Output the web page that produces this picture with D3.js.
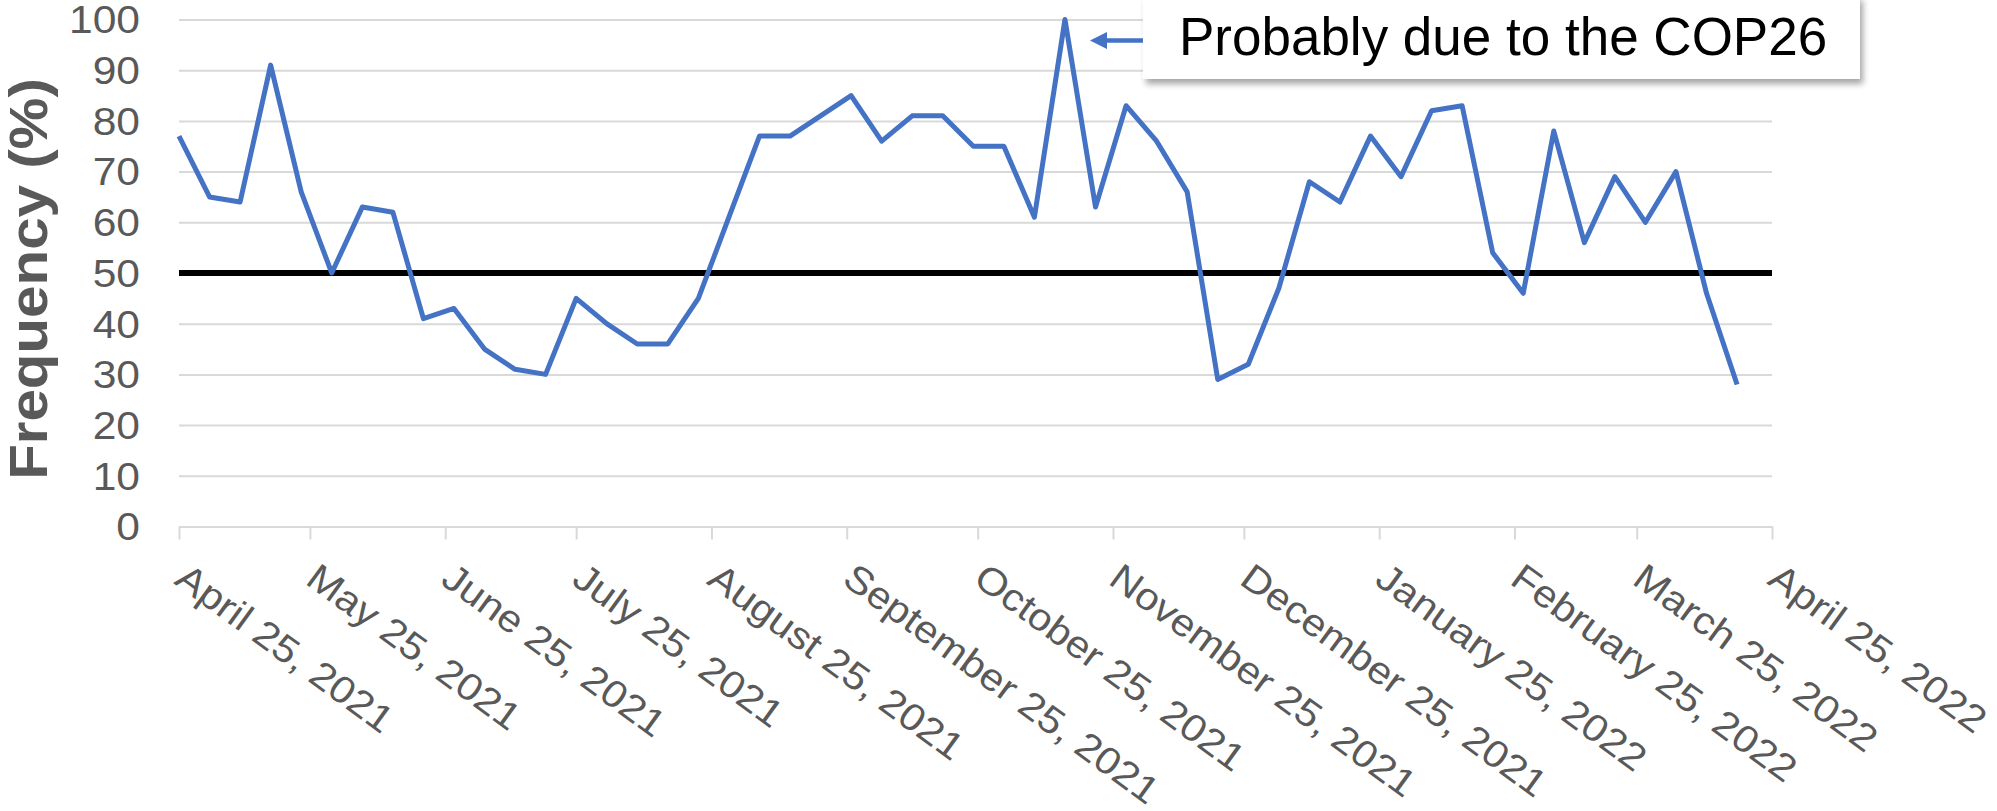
<!DOCTYPE html>
<html>
<head>
<meta charset="utf-8">
<script src="https://cdn.jsdelivr.net/npm/d3@7"></script>
<style>
body { margin: 0; background: #fff; }
text { font-family: "Liberation Sans", Arial, sans-serif; }
</style>
</head>
<body>
<div class="chart"></div>
<script>

// weekly observations
const weeks = [
    "2021-04-25", "2021-05-02", "2021-05-09", "2021-05-16", "2021-05-23", "2021-05-30",
    "2021-06-06", "2021-06-13", "2021-06-20", "2021-06-27", "2021-07-04", "2021-07-11",
    "2021-07-18", "2021-07-25", "2021-08-01", "2021-08-08", "2021-08-15", "2021-08-22",
    "2021-08-29", "2021-09-05", "2021-09-12", "2021-09-19", "2021-09-26", "2021-10-03",
    "2021-10-10", "2021-10-17", "2021-10-24", "2021-10-31", "2021-11-07", "2021-11-14",
    "2021-11-21", "2021-11-28", "2021-12-05", "2021-12-12", "2021-12-19", "2021-12-26",
    "2022-01-02", "2022-01-09", "2022-01-16", "2022-01-23", "2022-01-30", "2022-02-06",
    "2022-02-13", "2022-02-20", "2022-02-27", "2022-03-06", "2022-03-13", "2022-03-20",
    "2022-03-27", "2022-04-03", "2022-04-10", "2022-04-17"
]
const frequency = [
    77, 65, 64, 91, 66, 50, 63, 62, 41, 43, 35, 31, 30, 45, 40, 36, 36, 45, 61, 77,
    77, 81, 85, 76, 81, 81, 75, 75, 61, 100, 63, 83, 76, 66, 29, 32, 47, 68, 64, 77,
    69, 82, 83, 54, 46, 78, 56, 69, 60, 70, 46, 28
]
const monthTicks = [
    "April 25, 2021", "May 25, 2021", "June 25, 2021", "July 25, 2021",
    "August 25, 2021", "September 25, 2021", "October 25, 2021", "November 25, 2021",
    "December 25, 2021", "January 25, 2022", "February 25, 2022", "March 25, 2022",
    "April 25, 2022"
]
const yTicks = [0, 10, 20, 30, 40, 50, 60, 70, 80, 90, 100]
const threshold = 50
const noteText = "Probably due to the COP26"
const noteWeek = "2021-11-14"

let outerWidth = 1997
let outerHeight = 811
let margin = {top: 19.5, bottom: 284.5, left: 179, right: 225}
let w = outerWidth - margin.left - margin.right
let h = outerHeight - margin.top - margin.bottom

const parseDay = d3.timeParse("%Y-%m-%d")
const parseTick = d3.timeParse("%B %d, %Y")

const data = weeks.map((d, i) => ({date: parseDay(d), value: frequency[i]}))
const tickDates = monthTicks.map(parseTick)

const root = d3.select(".chart")
    .append("svg")
    .attr("width", outerWidth)
    .attr("height", outerHeight)

const defs = root.append("defs")
defs.append("filter")
    .attr("id", "shadow")
    .attr("x", "-5%").attr("y", "-30%")
    .attr("width", "112%").attr("height", "170%")
    .append("feDropShadow")
    .attr("dx", 3)
    .attr("dy", 5)
    .attr("stdDeviation", 3)
    .attr("flood-color", "#000")
    .attr("flood-opacity", 0.35)

const svg = root.append("g")
    .attr("transform", `translate(${margin.left}, ${margin.top})`)

const xScale = d3.scaleTime()
    .domain([tickDates[0], tickDates[tickDates.length - 1]])
    .range([0, w])

const yScale = d3.scaleLinear()
    .domain([0, 100])
    .range([h, 0])

// gridlines
svg.append("g")
    .attr("class", "grid")
    .call(d3.axisLeft(yScale).tickValues(yTicks).tickSize(-w).tickFormat(""))
    .call(g => g.select(".domain").remove())
    .call(g => g.selectAll("line").attr("stroke", "#d9d9d9").attr("stroke-width", 2))

// y labels
svg.append("g")
    .attr("class", "axis y-axis")
    .call(d3.axisLeft(yScale).tickValues(yTicks).tickSize(0))
    .call(g => g.select(".domain").remove())
    .call(g => g.selectAll("text")
        .attr("x", 0)
        .attr("dy", "0.35em")
        .attr("transform", "translate(-39, 0) scale(1.12, 1)")
        .attr("fill", "#595959")
        .attr("font-size", 38))

// x axis
const xAxis = svg.append("g")
    .attr("class", "axis x-axis")
    .attr("transform", `translate(0, ${h})`)
    .call(d3.axisBottom(xScale).tickValues(tickDates).tickSize(13).tickSizeOuter(0).tickFormat(""))
    .call(g => g.select(".domain").attr("stroke", "#d9d9d9").attr("stroke-width", 2))
    .call(g => g.selectAll(".tick line").attr("stroke", "#d9d9d9").attr("stroke-width", 2))

xAxis.selectAll(".xlabel")
    .data(tickDates)
    .enter()
    .append("text")
    .attr("class", "xlabel")
    .attr("text-anchor", "start")
    .attr("transform", d => `translate(${xScale(d) - 6}, 56.5) rotate(36) scale(1.1, 1)`)
    .attr("fill", "#595959")
    .attr("font-size", 38)
    .text((d, i) => monthTicks[i])

// 50% reference
svg.append("line")
    .attr("x1", 0)
    .attr("x2", w)
    .attr("y1", yScale(threshold))
    .attr("y2", yScale(threshold))
    .attr("stroke", "#000")
    .attr("stroke-width", 6)

const line = d3.line()
    .x(d => xScale(d.date))
    .y(d => yScale(d.value))

svg.append("path")
    .datum(data)
    .attr("fill", "none")
    .attr("stroke", "#4472C4")
    .attr("stroke-width", 5)
    .attr("stroke-linejoin", "round")
    .attr("d", line)

// y title
root.append("text")
    .attr("transform", "translate(47, 279) rotate(-90) scale(1.08, 1)")
    .attr("text-anchor", "middle")
    .attr("font-weight", "bold")
    .attr("font-size", 54)
    .attr("fill", "#595959")
    .text("Frequency (%)")

// annotation
const tipX = xScale(parseDay(noteWeek)) + 25
const tipY = 21
const note = svg.append("g")

note.append("line")
    .attr("x1", tipX + 14)
    .attr("x2", tipX + 60)
    .attr("y1", tipY)
    .attr("y2", tipY)
    .attr("stroke", "#4472C4")
    .attr("stroke-width", 4.5)

note.append("path")
    .attr("d", `M${tipX},${tipY} L${tipX + 17},${tipY - 8.5} L${tipX + 17},${tipY + 8.5} Z`)
    .attr("fill", "#4472C4")

note.append("rect")
    .attr("x", tipX + 53)
    .attr("y", -24)
    .attr("width", 717)
    .attr("height", 83.5)
    .attr("fill", "#fff")
    .attr("filter", "url(#shadow)")

note.append("text")
    .attr("x", tipX + 89)
    .attr("y", 35.5)
    .attr("font-size", 53)
    .attr("fill", "#000")
    .text(noteText)

</script>
</body>
</html>
